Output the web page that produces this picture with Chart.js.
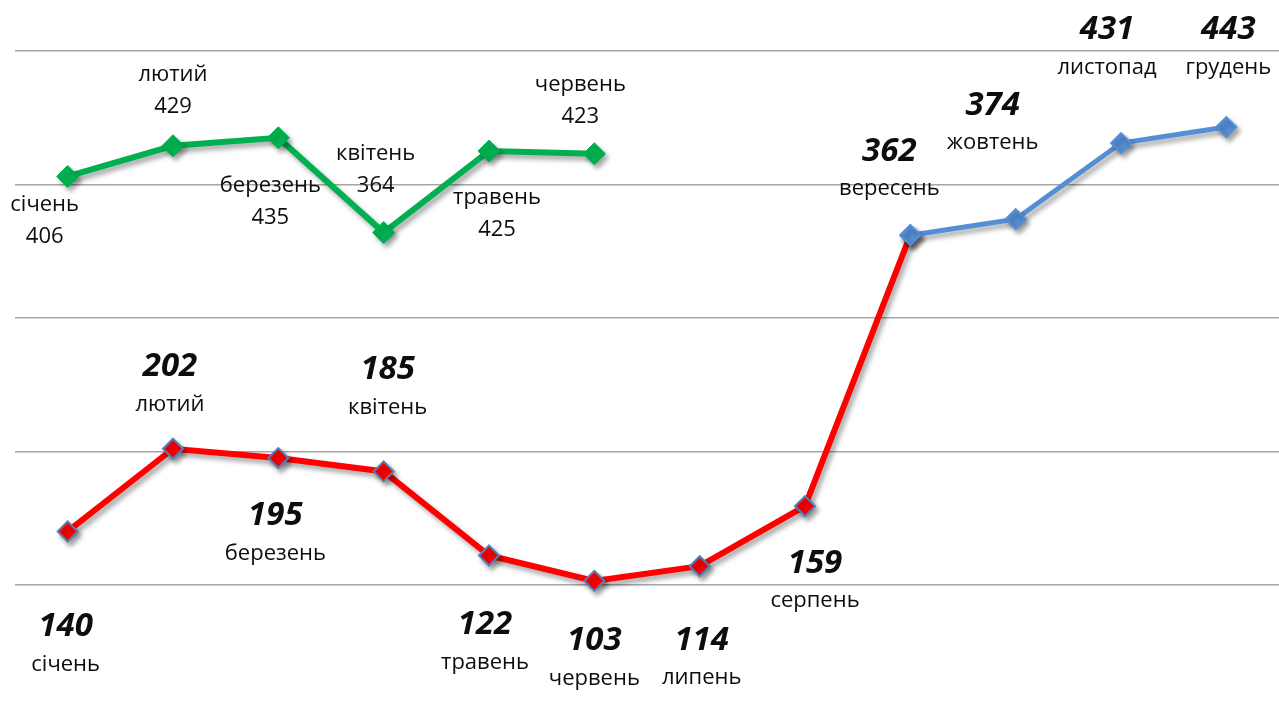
<!DOCTYPE html>
<html>
<head>
<meta charset="utf-8">
<script src="https://cdn.jsdelivr.net/npm/chart.js@4"></script>
<style>
  html, body { margin: 0; padding: 0; background: #fff; overflow: hidden; }
  canvas { display: block; }
</style>
</head>
<body>
<canvas id="chart" width="1279" height="713" style="width:1279px;height:713px"></canvas>
<script>
const months = ["січень", "лютий", "березень", "квітень", "травень", "червень",
  "липень", "серпень", "вересень", "жовтень", "листопад", "грудень"];

const greenValues = [406, 429, 435, 364, 425, 423, null, null, null, null, null, null];
const redValues = [140, 202, 195, 185, 122, 103, 114, 159, 362, null, null, null];
const blueValues = [null, null, null, null, null, null, null, null, 362, 374, 431, 443];

const gridTicks = [100, 200, 300, 400, 500];

/* label placement relative to each point: [dx, dy] of first text line */
const greenLabelPos = [[-23, 28], [0, -71], [-8, 48], [-8, -79], [8, 47], [-14, -69]];
const redLabelPos = [[-2, 95], [-3, -82], [-3, 58], [4, -102], [-4, 69], [0, 60], [2, 74], [10, 57], [-21, -84]];
const blueLabelPos = [null, null, null, null, null, null, null, null, null, [-23, -114], [-14, -113], [2, -97]];

/* ---------------- SHADOW UNDER LINES ---------------- */
const shadowPlugin = {
  id: "shadow",
  beforeDatasetDraw(chart) {
    const ctx = chart.ctx;
    ctx.save();
    ctx.shadowColor = "rgba(0,0,0,0.35)";
    ctx.shadowBlur = 5;
    ctx.shadowOffsetX = 3;
    ctx.shadowOffsetY = 4;
  },
  afterDatasetDraw(chart) {
    chart.ctx.restore();
  }
};

/* ---------------- POINT LABELS ---------------- */
const labelPlugin = {
  id: "pointLabels",
  afterDatasetsDraw(chart) {
    const ctx = chart.ctx;
    ctx.save();
    ctx.textAlign = "center";
    ctx.textBaseline = "middle";
    ctx.fillStyle = "#0d0d0d";

    chart.data.datasets.forEach((ds, di) => {
      const meta = chart.getDatasetMeta(di);
      meta.data.forEach((pt, i) => {
        const pos = ds.labelPos[i];
        const v = ds.data[i];
        if (!pos || v == null) return;
        const x = pt.x + pos[0];
        const y = pt.y + pos[1];
        if (ds.labelStyle === "plain") {
          ctx.font = "22px 'Open Sans'";
          ctx.fillText(months[i], x, y);
          ctx.fillText(String(v), x, y + 32);
        } else {
          ctx.font = "italic bold 33px 'Open Sans'";
          ctx.fillText(String(v), x, y);
          ctx.font = "22px 'Open Sans'";
          ctx.fillText(months[i], x, y + 38);
        }
      });
    });
    ctx.restore();
  }
};

new Chart(document.getElementById("chart"), {
  type: "line",
  data: {
    labels: months,
    datasets: [
      {
        data: greenValues,
        labelPos: greenLabelPos,
        labelStyle: "plain",
        borderColor: "#00b050",
        backgroundColor: "#00b050",
        borderWidth: 6,
        pointStyle: "rectRot",
        pointRadius: 11,
        pointBorderWidth: 1,
        pointBorderColor: "#00b050",
        order: 3
      },
      {
        data: redValues,
        labelPos: redLabelPos,
        labelStyle: "bold",
        borderColor: "#ff0000",
        backgroundColor: "#ff0000",
        borderWidth: 6,
        pointStyle: "rectRot",
        pointRadius: 10,
        pointBorderWidth: 2,
        pointBorderColor: "#4f81bd",
        order: 2
      },
      {
        data: blueValues,
        labelPos: blueLabelPos,
        labelStyle: "bold",
        borderColor: "#558ed5",
        backgroundColor: "#558ed5",
        borderWidth: 5,
        pointStyle: "rectRot",
        pointRadius: 10,
        pointBorderWidth: 2,
        pointBorderColor: "#558ed5",
        order: 1
      }
    ]
  },
  options: {
    responsive: false,
    animation: false,
    spanGaps: false,
    layout: { autoPadding: false, padding: { left: 15, right: 0, top: 51, bottom: 0 } },
    plugins: {
      legend: { display: false },
      tooltip: { enabled: false }
    },
    scales: {
      x: {
        display: false,
        offset: true
      },
      y: {
        min: 4,
        max: 500,
        afterBuildTicks: axis => {
          axis.ticks = gridTicks.map(v => ({ value: v }));
        },
        ticks: { display: false },
        grid: { color: "#a6a6a6", lineWidth: 1.5, drawTicks: false },
        border: { display: false }
      }
    },
    clip: false
  },
  plugins: [shadowPlugin, labelPlugin]
});
</script>
</body>
</html>
